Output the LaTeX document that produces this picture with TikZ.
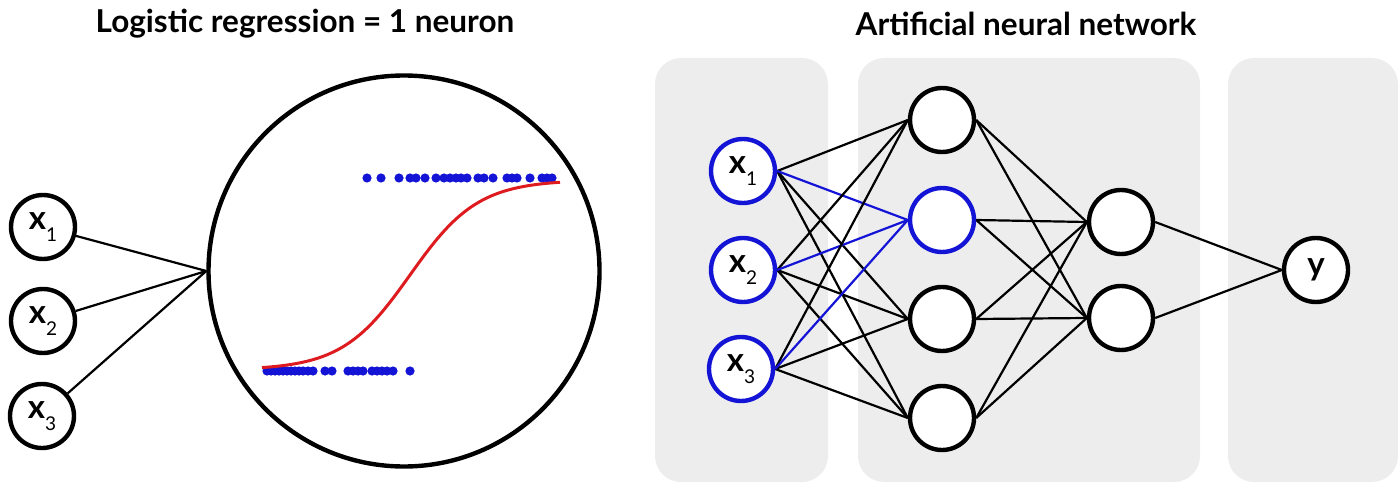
\documentclass[tikz,border=0pt]{standalone}
\usepackage{fontspec}
\setmainfont{Lato}
\definecolor{panel}{RGB}{237,237,237}
\definecolor{nblue}{RGB}{20,20,215}
\definecolor{sred}{RGB}{222,28,32}
\newcommand{\xsub}[1]{{\bfseries x}\raisebox{-12pt}{\fontsize{19}{19}\selectfont #1}}
\pgfdeclarelayer{panels}
\pgfdeclarelayer{edges}
\pgfsetlayers{panels,edges,main}
\tikzset{
  neuron/.style={circle, draw=black, line width=4.4pt, fill=white, minimum size=64pt, inner sep=0pt, font=\fontsize{33}{33}\selectfont},
  bneuron/.style={neuron, draw=nblue},
  edge/.style={line width=2.2pt, draw=black},
  bedge/.style={line width=2.2pt, draw=nblue},
  panelbox/.style={fill=panel, rounded corners=26pt},
  title/.style={font=\bfseries\fontsize{31.5}{31.5}\selectfont},
}
\begin{document}
\begin{tikzpicture}[x=1pt,y=-1pt]
\useasboundingbox (0,0) rectangle (1400,484);
% titles
\node[title] (t1) at (305,24) {Logistic regression = 1 neuron};
\node[title] (t2) at (1026,24) {Artificial neural network};
% left: logistic regression
\node[circle, draw=black, line width=4.4pt, minimum size=391pt, inner sep=0pt] (big) at (404,271) {};
\node[neuron] (lx1) at (43,227) {\xsub{1}};
\node[neuron] (lx2) at (43,321) {\xsub{2}};
\node[neuron] (lx3) at (42,416) {\xsub{3}};
\foreach \n in {lx1,lx2,lx3} \draw[edge] (\n) -- (big.west);
% data points
\foreach \p in {367,381,399,410,416,425,436,444,450,456,461,467,478,484,493,507,512,517,530,542,547,552}
  \fill[nblue] (\p,178) circle (4.6pt);
\foreach \p in {267,271,275,279,283,287,291,295,299,303,308,313,325,332,348,353,358,363,372,377,382,387,393,410}
  \fill[nblue] (\p,371) circle (4.6pt);
\draw[sred, line width=3pt] plot[domain=262:560, samples=150, smooth] (\x, {370 - 190/(1+exp(-(\x-410)/34))});
% right: panels
\begin{pgfonlayer}{panels}
\fill[panelbox] (655,58) rectangle (828,482);
\fill[panelbox] (858,58) rectangle (1200,482);
\fill[panelbox] (1228,58) rectangle (1398,482);
\end{pgfonlayer}
% network nodes
\node[bneuron] (i1) at (743,171) {\xsub{1}};
\node[bneuron] (i2) at (743,270) {\xsub{2}};
\node[bneuron] (i3) at (741,369) {\xsub{3}};
\node[neuron] (h1) at (942,120) {};
\node[bneuron] (h2) at (942,220) {};
\node[neuron] (h3) at (942,319) {};
\node[neuron] (h4) at (942,418) {};
\node[neuron] (g1) at (1121,222) {};
\node[neuron] (g2) at (1121,318) {};
\node[neuron] (y) at (1316,270) {\bfseries y};
% network edges
\begin{pgfonlayer}{edges}
\foreach \i in {i1,i2,i3}{
  \foreach \h in {h1,h3,h4} \draw[edge] (\i.east) -- (\h.west);
  \draw[bedge] (\i.east) -- (h2.west);
}
\foreach \h in {h1,h2,h3,h4}
  \foreach \g in {g1,g2} \draw[edge] (\h.east) -- (\g.west);
\foreach \g in {g1,g2} \draw[edge] (\g.east) -- (y.west);
\end{pgfonlayer}
\end{tikzpicture}
\end{document}
